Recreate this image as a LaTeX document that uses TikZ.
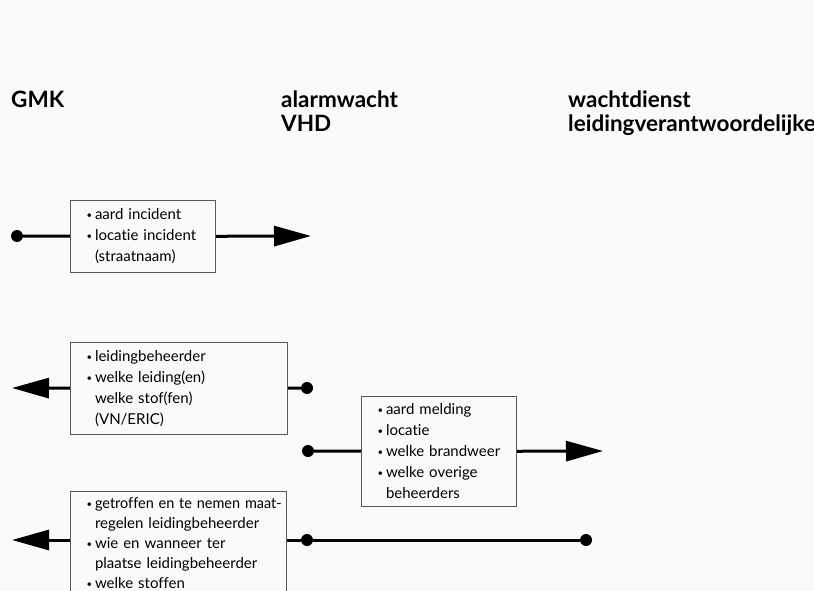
\documentclass[tikz,border=0pt]{standalone}
\usepackage{fontspec}
\setmainfont{Lato}[Ligatures=NoCommon]
\usetikzlibrary{arrows.meta}
\definecolor{bg}{RGB}{250,250,250}
\newcommand\bul{\makebox[8.5pt][l]{\raisebox{1pt}{\fontsize{9.5}{9.5}\selectfont\textbullet}}}
\newcommand\ind{\hspace*{8.5pt}}
\begin{document}
\begin{tikzpicture}[x=1pt,y=-1pt,
  conn/.style={line width=3pt,black},
  arr/.style={conn,-{Triangle[length=37pt,width=20pt]}},
  dotnode/.style={circle,fill=black,inner sep=0pt,minimum size=12pt},
  infobox/.style={draw=black!65,line width=1pt,fill=bg,anchor=north west,inner xsep=16pt,inner ysep=0pt,align=left,
    font=\fontsize{15}{21}\selectfont},
  header/.style={anchor=base west,inner sep=0pt,font=\fontsize{22.5}{24}\selectfont\bfseries}]
\useasboundingbox (0,0) rectangle (814,591);
\fill[bg] (0,0) rectangle (814,591);

% headers
\node[header] (h1) at (11,108) {GMK};
\node[header] (h2) at (281,108) {alarmwacht};
\node[header] (h2b) at (281,132) {VHD};
\node[header] (h3) at (568,108) {wachtdienst};
\node[header] (h3b) at (568,132) {leidingverantwoordelijke};

% row 1
\node[infobox,minimum width=145pt,minimum height=72pt,text width=113pt] (b1) at (70,200)
  {\bul aard incident\\ \bul locatie incident\\ \ind (straatnaam)};
\node[dotnode] (d1) at (17,236) {};
\coordinate (a1) at (311,236);
\draw[conn] (d1) -- (b1);
\draw[arr] (b1) -- (a1);

% row 2
\node[infobox,minimum width=217pt,minimum height=92pt,text width=185pt] (b2) at (70,342)
  {\bul leidingbeheerder\\ \bul welke leiding(en)\\ \ind welke stof(fen)\\ \ind (VN/ERIC)};
\coordinate (a2) at (12,388);
\node[dotnode] (d2) at (307,388) {};
\draw[arr] (b2) -- (a2);
\draw[conn] (b2) -- (d2);

% row 3
\node[infobox,minimum width=155pt,minimum height=110pt,text width=123pt] (b3) at (361,396)
  {\bul aard melding\\ \bul locatie\\ \bul welke brandweer\\ \bul welke overige\\ \ind beheerders};
\node[dotnode] (d3) at (308,451) {};
\coordinate (a3) at (603,451);
\draw[conn] (d3) -- (b3);
\draw[arr] (b3) -- (a3);

% row 4
\node[infobox,minimum width=216pt,inner ysep=6pt,text width=184pt,font=\fontsize{15}{20}\selectfont] (b4) at (70,491)
  {\mbox{\bul\scalebox{0.965}[1]{getroffen en te nemen maat-}}\\ \ind regelen leidingbeheerder\\ \bul wie en wanneer ter\\ \ind plaatse leidingbeheerder\\ \bul welke stoffen\\ \strut};
\coordinate (a4) at (12,540);
\node[dotnode] (d4) at (307,540) {};
\node[dotnode] (d5) at (586,540) {};
\draw[arr] (b4.west |- a4) -- (a4);
\draw[conn] (b4.east |- d4) -- (d4) -- (d5);
\end{tikzpicture}
\end{document}
